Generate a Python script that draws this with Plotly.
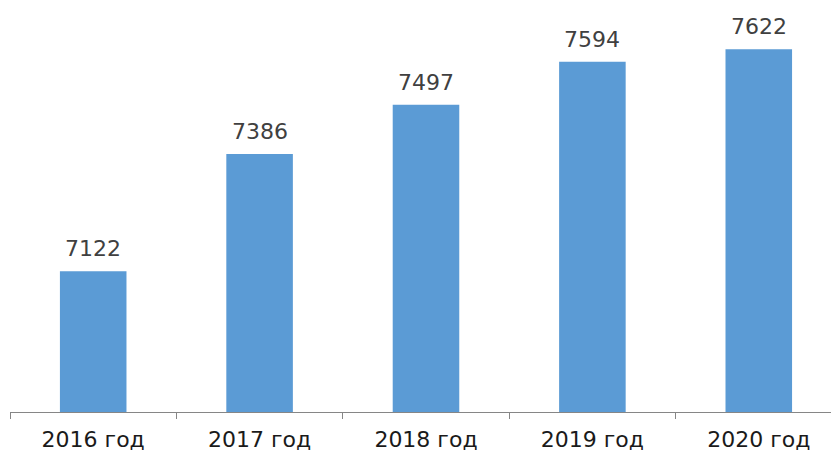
import plotly.graph_objects as go

categories = ["2016 год", "2017 год", "2018 год", "2019 год", "2020 год"]
values = [7122, 7386, 7497, 7594, 7622]

fig = go.Figure()
fig.add_trace(go.Bar(
    x=categories, y=values,
    marker=dict(color="#5B9BD5", line=dict(width=0)),
    width=0.4,
    hoverinfo="skip",
))

for c, v in zip(categories, values):
    fig.add_annotation(
        x=c, y=v, text=str(v), showarrow=False,
        yanchor="bottom", yshift=8,
        font=dict(family="DejaVu Sans", size=22, color="#404040"),
    )

fig.update_layout(
    width=831, height=455,
    margin=dict(l=10, r=0, t=0, b=43, autoexpand=False),
    paper_bgcolor="white", plot_bgcolor="white",
    showlegend=False,
    bargap=0.6,
    xaxis=dict(
        type="category",
        range=[-0.5, 4.434],
        automargin=False,
        showline=True, linecolor="#868686", linewidth=1,
        ticks="outside", ticklen=6, tickcolor="#868686", tickson="boundaries",
        tickfont=dict(family="DejaVu Sans", size=22, color="#1a1a1a"),
        ticklabelstandoff=8,
        showgrid=False, zeroline=False,
    ),
    yaxis=dict(
        range=[6805, 7733],
        visible=False, showgrid=False, zeroline=False,
    ),
)

fig.write_html(
    "out.html",
    config={"displayModeBar": False},
    post_script="document.body.style.margin='0';document.body.style.overflow='hidden';",
)
